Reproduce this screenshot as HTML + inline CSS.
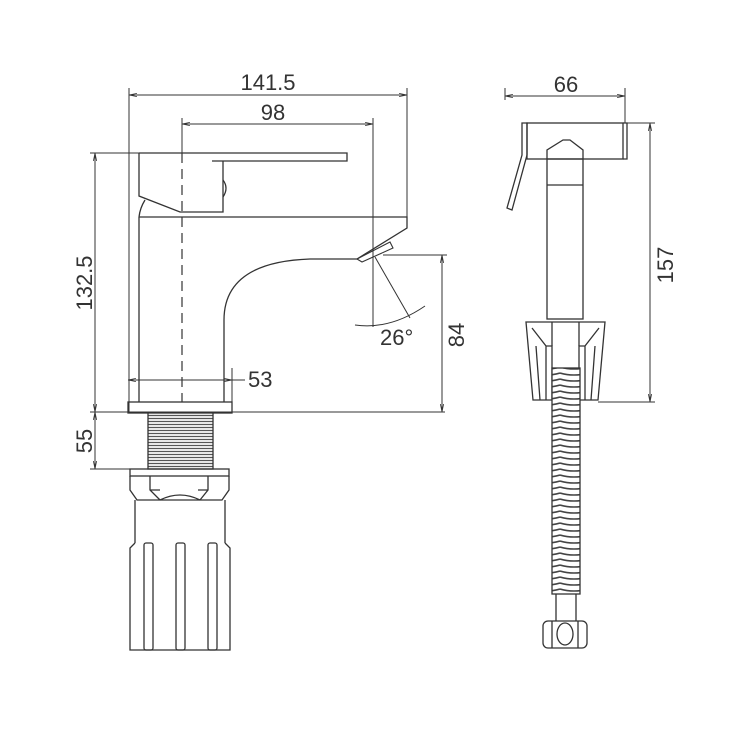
<!DOCTYPE html>
<html><head><meta charset="utf-8"><style>html,body{margin:0;padding:0;background:#fff}svg{display:block}</style></head>
<body>
<svg width="750" height="750" viewBox="0 0 750 750" xmlns="http://www.w3.org/2000/svg">
<defs>
<marker id="a" viewBox="0 0 10 10" refX="10" refY="5" markerWidth="8" markerHeight="8" orient="auto-start-reverse"><path d="M0,3 L10,5 L0,7" fill="none" stroke="#333" stroke-width="1"/></marker>
<pattern id="thr" width="6" height="3" patternUnits="userSpaceOnUse"><rect width="6" height="3" fill="#fff"/><line x1="0" y1="1.5" x2="6" y2="1.5" stroke="#555" stroke-width="1.3"/></pattern>
<pattern id="hose" width="28" height="6" patternUnits="userSpaceOnUse"><rect width="28" height="6" fill="#fff"/><path d="M0,1 Q14,5 28,1" fill="none" stroke="#444" stroke-width="1.6"/></pattern>
</defs>
<g fill="none" stroke="#333" stroke-width="1.3">
<line x1="129" y1="88" x2="129" y2="412" stroke-width="1"/>
<line x1="407" y1="88" x2="407" y2="218" stroke-width="1"/>
<line x1="129" y1="95" x2="407" y2="95" stroke-width="1" marker-start="url(#a)" marker-end="url(#a)"/>
<line x1="182" y1="118" x2="182" y2="153" stroke-width="1"/>
<line x1="373" y1="118" x2="373" y2="327" stroke-width="1"/>
<line x1="182" y1="124" x2="373" y2="124" stroke-width="1" marker-start="url(#a)" marker-end="url(#a)"/>
<line x1="182" y1="153" x2="182" y2="402" stroke-dasharray="10,6" stroke-width="1.2"/>
<line x1="90" y1="153" x2="139" y2="153" stroke-width="1"/>
<line x1="95" y1="153" x2="95" y2="412" stroke-width="1" marker-start="url(#a)" marker-end="url(#a)"/>
<line x1="90" y1="412" x2="445" y2="412" stroke-width="1"/>
<line x1="95" y1="412" x2="95" y2="469" stroke-width="1" marker-start="url(#a)" marker-end="url(#a)"/>
<line x1="90" y1="469" x2="135" y2="469" stroke-width="1"/>
<line x1="383" y1="255" x2="447" y2="255" stroke-width="1"/>
<line x1="442" y1="255" x2="442" y2="412" stroke-width="1" marker-start="url(#a)" marker-end="url(#a)"/>
<line x1="128" y1="380" x2="232" y2="380" stroke-width="1" marker-start="url(#a)" marker-end="url(#a)"/>
<line x1="232" y1="368" x2="232" y2="402" stroke-width="1"/>
<line x1="232" y1="380" x2="245" y2="380" stroke-width="1"/>
<line x1="375" y1="257" x2="410" y2="318" stroke-width="1"/>
<path d="M355,325 Q390,330 425,306" stroke-width="1"/>
<path d="M139,153 L347,153 L347,161 L212,161"/>
<path d="M139,153 L139,196 L180,212 L223,212 L223,161"/>
<path d="M223,180 Q229,188 223,197"/>
<path d="M145,200 Q140,208 139,217"/>
<path d="M139,217 L407,217 L407,228 L357,259 L310,259 Q224,262 224,320 L224,402"/>
<line x1="139" y1="217" x2="139" y2="402"/>
<path d="M357,259 L390,242 L393,248 L362,262 Z" stroke-width="1.1"/>
<rect x="128" y="402" width="104" height="11"/>
<rect x="148" y="413" width="65" height="56" fill="url(#thr)"/>
<rect x="130" y="469" width="99" height="7"/>
<path d="M130,476 L130,490 L137,500 L222,500 L229,490 L229,476"/>
<path d="M150,476 L150,490 L160,500 M160,500 Q180,490 200,500 M208,476 L208,490 L200,500 M150,490 L160,490 M198,490 L208,490"/>
<line x1="135" y1="500" x2="135" y2="543"/><line x1="225" y1="500" x2="225" y2="543"/>
<path d="M135,543 L130,548 L130,650 L230,650 L230,548 L225,543"/>
<rect x="144" y="543" width="9" height="107" rx="2"/>
<rect x="176" y="543" width="9" height="107" rx="2"/>
<rect x="208" y="543" width="9" height="107" rx="2"/>
<line x1="505" y1="88" x2="505" y2="100" stroke-width="1"/>
<line x1="625" y1="88" x2="625" y2="123" stroke-width="1"/>
<line x1="505" y1="96" x2="625" y2="96" stroke-width="1" marker-start="url(#a)" marker-end="url(#a)"/>
<line x1="625" y1="123" x2="655" y2="123" stroke-width="1"/>
<line x1="598" y1="402" x2="655" y2="402" stroke-width="1"/>
<line x1="650" y1="123" x2="650" y2="402" stroke-width="1" marker-start="url(#a)" marker-end="url(#a)"/>
<rect x="527" y="123" width="96" height="36"/>
<path d="M623,123 L627,123 L627,159 L623,159"/>
<path d="M522,123 L527,123 L527,155 L512,210 L507,208 L522,155 Z"/>
<path d="M547,159 L547,150 L563,140 L570,140 L583,150 L583,159"/>
<rect x="547" y="159" width="36" height="160"/>
<line x1="547" y1="185" x2="583" y2="185"/>
<path d="M526,322 L605,322 L598,400 L533,400 Z"/>
<path d="M532,328 L546,346 L546,400 M599,328 L585,346 L585,400 M546,346 L552,346 L552,400 M585,346 L579,346 L579,400 M536,346 L540,400 M595,346 L591,400"/>
<line x1="552" y1="322" x2="552" y2="346"/><line x1="579" y1="322" x2="579" y2="346"/>
<rect x="552" y="368" width="28" height="226" fill="url(#hose)"/>
<line x1="556" y1="594" x2="556" y2="621"/><line x1="576" y1="594" x2="576" y2="621"/>
<rect x="543" y="621" width="44" height="27" rx="5"/>
<ellipse cx="565" cy="634" rx="8" ry="11"/>
<line x1="552" y1="621" x2="552" y2="648"/><line x1="578" y1="621" x2="578" y2="648"/>
</g>
<g font-family="Liberation Sans, sans-serif" font-size="22" fill="#333">
<text x="268" y="90" text-anchor="middle">141.5</text>
<text x="273" y="120" text-anchor="middle">98</text>
<text x="248" y="387">53</text>
<text x="380" y="345">26°</text>
<text x="566" y="92" text-anchor="middle">66</text>
<text transform="translate(92,283) rotate(-90)" text-anchor="middle">132.5</text>
<text transform="translate(92,441) rotate(-90)" text-anchor="middle">55</text>
<text transform="translate(464,335) rotate(-90)" text-anchor="middle">84</text>
<text transform="translate(673,265) rotate(-90)" text-anchor="middle">157</text>
</g>
</svg>
</body></html>
